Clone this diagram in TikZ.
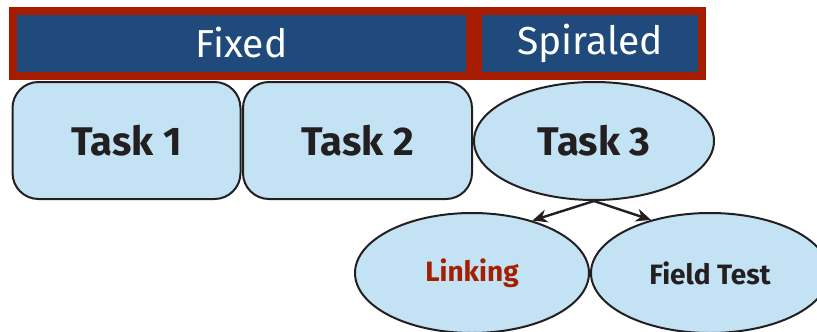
\documentclass[tikz,border=0pt]{standalone}
\usepackage{fontspec}
\setmainfont{Fira Sans}
\usetikzlibrary{shapes.geometric,arrows.meta}
\definecolor{hdrred}{HTML}{A61C00}
\definecolor{hdrblue}{HTML}{204A7C}
\definecolor{lightfill}{HTML}{C3E2F4}
\definecolor{darktext}{HTML}{231F20}
\definecolor{linkred}{HTML}{A31F00}
\begin{document}
\begin{tikzpicture}[x=1pt,y=-1pt,
  hdrouter/.style={fill=hdrred,draw=none},
  hdrinner/.style={fill=hdrblue,draw=none},
  hdrtext/.style={text=white,font=\fontsize{39}{42}\selectfont},
  taskbox/.style={draw=darktext,line width=2pt,fill=lightfill,rounded corners=26pt,text=darktext,font=\bfseries\fontsize{40}{44}\selectfont},
  taskell/.style={ellipse,draw=darktext,line width=2pt,fill=lightfill,inner sep=0pt,text=darktext},
  smalltext/.style={font=\bfseries\fontsize{28}{30}\selectfont},
  conn/.style={draw=darktext,line width=2.4pt,-{Stealth[length=15pt,width=13pt]}}]
\useasboundingbox (0,0) rectangle (817,332);
\clip (0,0) rectangle (817,332);
% headers
\fill[hdrouter] (9,7) rectangle (474,80);
\fill[hdrinner] (17,15) rectangle (466,72);
\fill[hdrouter] (474,7) rectangle (706,80);
\fill[hdrinner] (482,15) rectangle (698,72);
\node[hdrtext] (fixed) at (241.5,43) {Fixed};
\node[hdrtext] (spiraled) at (590,43) {Spiraled};
% tasks
\node[taskbox,minimum width=228pt,minimum height=117pt] (t1) at (126.5,140.5) {Task 1};
\node[taskbox,minimum width=229pt,minimum height=117pt] (t2) at (357.5,140.5) {Task 2};
\node[taskell,minimum width=240pt,minimum height=118pt,font=\bfseries\fontsize{40}{44}\selectfont] (t3) at (594,141) {Task 3};
\node[taskell,smalltext,minimum width=234pt,minimum height=120pt,text=linkred] (link) at (472,273) {Linking};
\node[taskell,smalltext,minimum width=238pt,minimum height=120pt] (ft) at (710,273) {Field Test};
\draw[conn] (t3.south) -- (link.41);
\draw[conn] (t3.south) -- (ft.138);
\end{tikzpicture}
\end{document}
